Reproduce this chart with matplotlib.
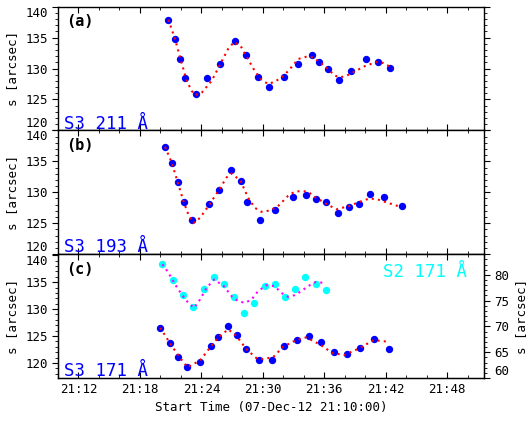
import matplotlib
matplotlib.use("Agg")
import matplotlib.pyplot as plt
from matplotlib.ticker import MultipleLocator

plt.rcParams['font.family'] = ['DejaVu Sans Mono']

# ---- data: minutes after 21:10:00 ----
# Panel (a) S3 211 A
a_t = [10.78, 11.43, 11.95, 12.43, 13.44, 14.57, 15.84, 17.24, 18.34, 19.50, 20.64,
       22.03, 23.46, 24.76, 25.51, 26.38, 27.41, 28.65, 30.04, 31.21, 32.41]
a_s = [137.9, 134.75, 131.6, 128.45, 125.85, 128.45, 130.7, 134.4, 132.15, 128.7, 127.0,
       128.7, 130.7, 132.15, 131.0, 129.9, 128.2, 129.6, 131.6, 131.0, 130.1]
a_fit_t = [10.78, 11.43, 11.95, 12.57, 13.05, 13.38, 14.03, 15.0, 15.84, 16.62, 17.2, 17.9,
           18.56, 19.21, 19.86, 20.5, 21.16, 22.03, 22.78, 23.46, 24.24, 24.89, 25.5, 26.38,
           26.99, 27.48, 28.13, 28.94, 30.04, 31.21, 31.86, 32.67]
a_fit_s = [137.9, 134.75, 131.6, 128.0, 126.4, 125.7, 126.1, 128.0, 130.7, 133.2, 134.3, 133.45,
           131.5, 129.6, 128.2, 127.5, 127.85, 128.8, 130.2, 131.55, 131.9, 131.8, 131.1, 129.9,
           128.9, 128.55, 128.8, 129.5, 130.45, 131.1, 130.85, 130.0]

# Panel (b) S3 193 A
b_t = [10.46, 11.11, 11.69, 12.28, 13.11, 14.71, 15.74, 16.88, 17.82, 18.5, 19.7,
       21.23, 22.91, 24.24, 25.18, 26.12, 27.35, 28.39, 29.36, 30.47, 31.79, 33.54]
b_s = [137.33, 134.75, 131.6, 128.4, 125.5, 128.1, 130.4, 133.6, 131.85, 128.4, 125.5,
       127.2, 129.3, 129.55, 128.97, 128.36, 126.67, 127.6, 128.1, 129.8, 129.3, 127.8]
b_fit_t = [10.46, 11.11, 11.69, 12.28, 12.73, 13.21, 13.86, 14.67, 15.74, 16.46, 16.95, 17.82,
           18.56, 19.21, 19.86, 20.67, 21.48, 22.45, 23.1, 23.75, 24.4, 25.18, 26.12, 27.16,
           28.39, 29.36, 30.4, 31.21, 32.18, 33.54]
b_fit_s = [137.33, 134.75, 131.6, 128.4, 126.4, 125.03, 125.85, 127.75, 130.44, 132.4, 133.06,
           131.85, 129.13, 127.5, 126.84, 127.05, 127.75, 129.4, 130.1, 130.2, 130.1, 129.13,
           128.2, 127.26, 127.75, 128.4, 129.0, 128.85, 128.3, 127.6]

# Panel (c) S3 171 A (left axis)
c_t = [9.97, 10.91, 11.75, 12.57, 13.83, 14.9, 15.61, 16.59, 17.43, 18.34, 19.6,
       20.9, 22.06, 23.3, 24.49, 25.63, 26.96, 28.19, 29.52, 30.82, 32.34]
c_s = [126.48, 123.65, 121.17, 119.2, 120.24, 123.15, 124.8, 126.8, 125.13, 122.54, 120.56,
       120.56, 123.1, 124.2, 125.06, 123.94, 121.98, 121.67, 122.83, 124.5, 122.54]
c_fit_t = [9.97, 10.94, 11.82, 12.63, 13.86, 14.9, 15.64, 16.62, 17.43, 18.4, 19.38, 20.02,
           21.0, 21.97, 23.27, 24.24, 25.54, 26.83, 27.97, 29.43, 30.82, 32.34]
c_fit_s = [126.54, 123.65, 121.17, 119.2, 120.43, 123.0, 124.75, 126.24, 125.0, 122.54, 120.87,
           120.74, 121.05, 123.0, 124.26, 124.75, 123.46, 121.8, 121.48, 122.72, 124.26, 123.9]

# Panel (c) S2 171 A (right axis)
d_t = [10.19, 11.21, 12.21, 13.21, 14.22, 15.19, 16.2, 17.2, 18.17, 19.14, 20.18,
       21.16, 22.16, 23.17, 24.14, 25.15, 26.15]
d_s = [82.05, 79.06, 76.06, 73.8, 77.3, 79.65, 78.2, 75.8, 72.55, 74.63, 77.9,
       78.2, 75.8, 77.3, 79.65, 78.2, 77.0]
d_fit_t = [10.19, 10.78, 11.43, 12.08, 12.72, 13.28, 13.86, 14.51, 15.25, 16.2, 16.95, 17.59,
           18.24, 18.89, 19.53, 20.35, 21.16, 21.81, 22.45, 23.1, 23.75, 24.4, 25.15, 25.86]
d_fit_s = [82.05, 80.42, 78.15, 76.2, 74.57, 73.6, 75.2, 77.5, 79.1, 77.8, 75.86, 74.9,
           74.57, 75.2, 76.84, 78.0, 77.8, 76.5, 75.75, 76.06, 76.84, 77.8, 78.6, 78.47]

tick_min = [2, 8, 14, 20, 26, 32, 38]
tick_lab = ['21:12', '21:18', '21:24', '21:30', '21:36', '21:42', '21:48']
left_ticks = [120, 125, 130, 135, 140]
right_ticks = [60, 65, 70, 75, 80]

panel_tags = ['(a)', '(b)', '(c)']
panel_names = ['S3 211 Å', 'S3 193 Å', 'S3 171 Å']
right_name = 'S2 171 Å'

fig = plt.figure(figsize=(5.32, 4.26), dpi=100)
L, W, H = 0.109, 0.801, 0.2905
bottoms = [0.6939, 0.4034, 0.1127]
axes = [fig.add_axes([L, b, W, H]) for b in bottoms]

fs_tick = 9
def style(ax):
    ax.set_xlim(0, 41.6)
    ax.set_xticks(tick_min)
    ax.xaxis.set_minor_locator(MultipleLocator(2))
    ax.set_yticks(left_ticks)
    ax.yaxis.set_minor_locator(MultipleLocator(1))
    ax.tick_params(axis='x', which='both', direction='in', top=True, bottom=True)
    ax.tick_params(axis='y', which='both', direction='out')
    ax.tick_params(which='major', length=4, width=0.8, labelsize=fs_tick)
    ax.tick_params(which='minor', length=2, width=0.6)
    for sp in ax.spines.values():
        sp.set_linewidth(1.0)

series = [(a_t, a_s, a_fit_t, a_fit_s), (b_t, b_s, b_fit_t, b_fit_s), (c_t, c_s, c_fit_t, c_fit_s)]
for i, ax in enumerate(axes):
    t, s, ft, fsv = series[i]
    style(ax)
    ax.plot(ft, fsv, color='red', linestyle=(0, (1, 2)), linewidth=1.5, zorder=3)
    ax.plot(t, s, 'o', color='blue', markersize=5.3, markeredgewidth=0, zorder=2)
    ax.set_ylabel('s [arcsec]', fontsize=9)
    ax.text(0.019, 0.88, panel_tags[i], transform=ax.transAxes, fontsize=11,
            fontweight='bold', ha='left', va='center')
    ax.text(0.014, 0.015, panel_names[i], transform=ax.transAxes, fontsize=12.5,
            color='blue', ha='left', va='baseline')
    labs = ax.get_yticklabels()
    if i < 2:
        ax.set_ylim(120, 140)
        ax.yaxis.set_ticks_position('both')
        ax.tick_params(axis='x', labelbottom=False)
        labs[0].set_verticalalignment('bottom')
        labs[-1].set_verticalalignment('top')
    else:
        ax.set_ylim(117.2, 140.2)
        ax.set_xticklabels(tick_lab)
        ax.set_xlabel('Start Time (07-Dec-12 21:10:00)', fontsize=9)
        labs[-1].set_verticalalignment('top')

axc = axes[2]
axr = axc.twinx()
axr.set_ylim(60, 84)
axr.plot(d_fit_t, d_fit_s, color='magenta', linestyle=(0, (1, 2)), linewidth=1.5, zorder=3)
axr.plot(d_t, d_s, 'o', color='cyan', markersize=5.3, markeredgewidth=0, zorder=2)
axr.set_yticks(right_ticks)
axr.yaxis.set_minor_locator(MultipleLocator(1))
axr.tick_params(which='both', direction='out')
axr.tick_params(which='major', length=4, width=0.8, labelsize=fs_tick)
axr.tick_params(which='minor', length=2, width=0.6)
axr.get_yticklabels()[0].set_verticalalignment('bottom')
axr.set_ylabel('s [arcsec]', fontsize=9)
axr.text(0.96, 0.815, right_name, transform=axr.transAxes, fontsize=12.5,
         color='cyan', ha='right', va='baseline')

fig.savefig('out.png', dpi=100)
